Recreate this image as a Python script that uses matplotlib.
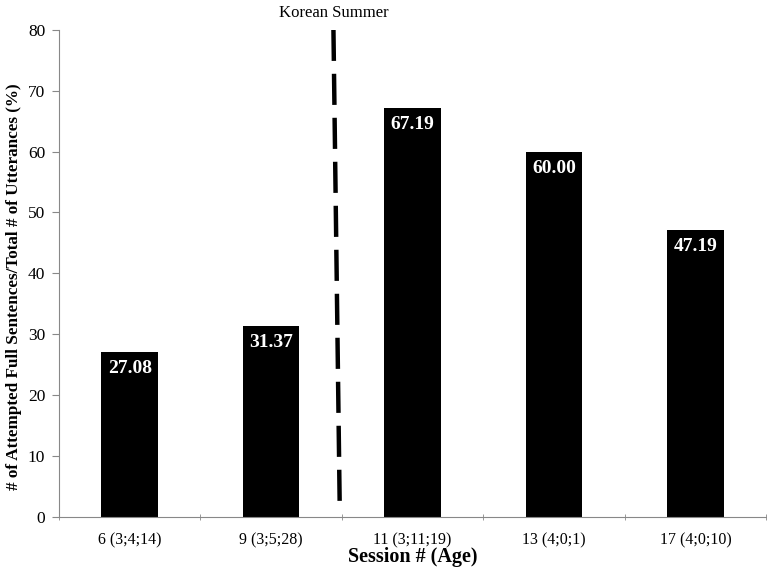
import matplotlib.pyplot as plt
import numpy as np

plt.rcParams['font.family'] = ['Liberation Serif', 'DejaVu Serif']

sessions = ["6 (3;4;14)", "9 (3;5;28)", "11 (3;11;19)", "13 (4;0;1)", "17 (4;0;10)"]
percent = [27.08, 31.37, 67.19, 60.00, 47.19]
value_labels = ["27.08", "31.37", "67.19", "60.00", "47.19"]

fig = plt.figure(figsize=(7.67, 5.73), dpi=100)
ax = fig.add_axes([0.077, 0.098, 0.922, 0.85])

x = np.arange(len(sessions))
bars = ax.bar(x, percent, width=0.4, color="black", zorder=2)

for xi, v, lab in zip(x, percent, value_labels):
    ax.annotate(lab, (xi, v), xytext=(0, -6), textcoords="offset points",
                ha="center", va="top", color="white", fontsize=14, fontweight="bold")

# dashed line marking the summer break
ax.plot([1.44, 1.485], [80, 0.6], color="black", lw=3.2, dashes=(7, 2.9), zorder=3)
ax.text(1.44, 82.8, "Korean Summer", ha="center", va="center", fontsize=12)

ax.set_xlim(-0.5, len(sessions) - 0.5)
ax.set_ylim(0, 80)
ax.set_yticks(range(0, 81, 10))
ax.set_xticks(x)
ax.set_xticklabels(sessions, fontsize=11.5)
ax.set_xticks(np.arange(-0.5, len(sessions), 1), minor=True)
ax.tick_params(axis="x", which="major", length=0, pad=11)
ax.tick_params(axis="x", which="minor", length=5, color="#888888", direction="inout")
ax.tick_params(axis="y", labelsize=12.5, length=5, pad=5, color="#888888")

for s in ["top", "right"]:
    ax.spines[s].set_visible(False)
for s in ["left", "bottom"]:
    ax.spines[s].set_color("#888888")

ax.set_xlabel("Session # (Age)", fontsize=14.5, fontweight="bold", labelpad=-1)
ax.set_ylabel("# of Attempted Full Sentences/Total # of Utterances (%)", fontsize=12.3,
              fontweight="bold")
ax.yaxis.set_label_coords(-0.052, 0.472)

fig.savefig("out.png", dpi=100)
